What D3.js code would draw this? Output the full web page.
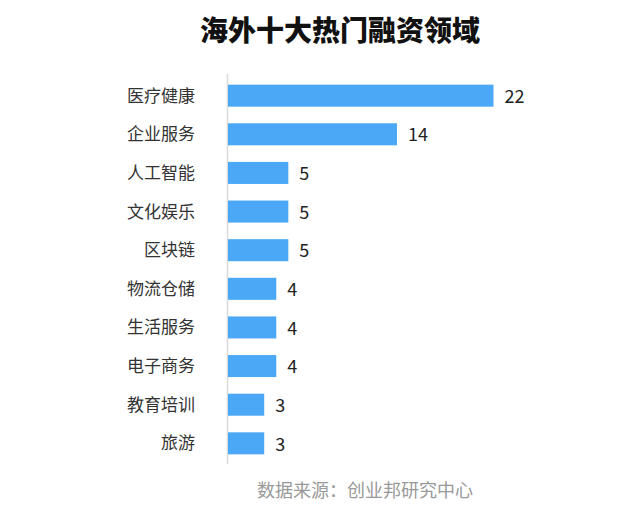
<!DOCTYPE html>
<html><head><meta charset="utf-8">
<script src="https://cdn.jsdelivr.net/npm/d3@7"></script>
<style>body{margin:0;background:#fff;} svg{display:block;}</style>
</head><body>
<svg id="c" width="638" height="509"></svg>
<script>
const categories = ["医疗健康","企业服务","人工智能","文化娱乐","区块链","物流仓储","生活服务","电子商务","教育培训","旅游"];
const values = [22,14,5,5,5,4,4,4,3,3];
const title = "海外十大热门融资领域";
const source = "数据来源：创业邦研究中心";

const svg = d3.select("#c");
const font = "'Noto Sans CJK SC','Microsoft YaHei',sans-serif";
const x = d3.scaleLinear().domain([0,22]).range([228,493.5]);
const y = d3.scaleBand().domain(categories).range([75,464]).paddingInner(0.43).paddingOuter(0.25);

svg.append("text").attr("x",340).attr("y",41).attr("text-anchor","middle")
  .attr("font-family",font).attr("font-weight",900).attr("font-size",28).attr("fill","#111").text(title);

svg.append("line").attr("x1",227.5).attr("x2",227.5).attr("y1",74).attr("y2",464)
  .attr("stroke","#d9d9d9").attr("stroke-width",1.5);

const data = categories.map((c,i)=>({c,v:values[i]}));
svg.selectAll("rect.bar").data(data).join("rect").attr("class","bar")
  .attr("x",x(0)).attr("y",d=>y(d.c)).attr("width",d=>x(d.v)-x(0)).attr("height",y.bandwidth())
  .attr("fill","#4aa8f7");

svg.selectAll("text.cat").data(data).join("text").attr("class","cat")
  .attr("x",195).attr("y",d=>y(d.c)+y.bandwidth()/2).attr("dy","0.35em").attr("text-anchor","end")
  .attr("font-family",font).attr("font-size",17).attr("fill","#333").text(d=>d.c);

svg.selectAll("text.val").data(data).join("text").attr("class","val")
  .attr("x",d=>x(d.v)+11).attr("y",d=>y(d.c)+y.bandwidth()/2).attr("dy","0.4em")
  .attr("font-family",font).attr("font-size",18).attr("fill","#222").text(d=>d.v);

svg.append("text").attr("x",365).attr("y",497).attr("text-anchor","middle")
  .attr("font-family",font).attr("font-size",18).attr("fill","#999").text(source);
</script>
</body></html>
